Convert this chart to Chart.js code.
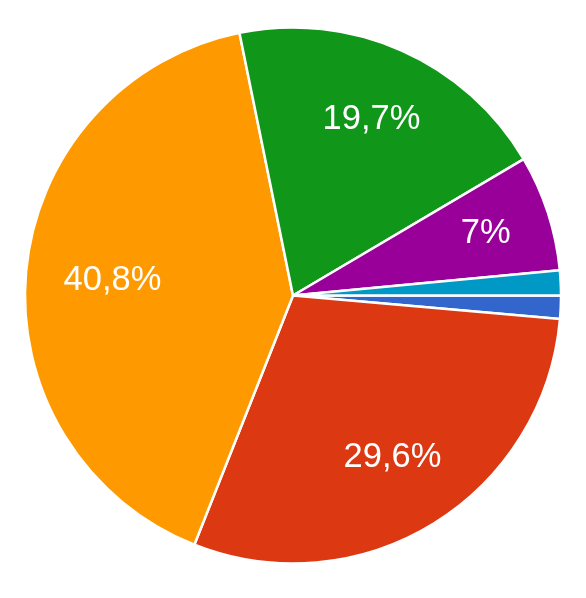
<!DOCTYPE html>
<html>
<head>
<meta charset="utf-8">
<script src="https://cdn.jsdelivr.net/npm/chart.js@4/dist/chart.umd.min.js"></script>
<style>
  html, body { margin: 0; padding: 0; background: #fff; }
  #wrap { width: 586px; height: 598px; }
</style>
</head>
<body>
<div id="wrap"><canvas id="pieChart" width="586" height="598"></canvas></div>
<script>
// Slice names (not shown in the picture) and their shares in percent
const categories = ['Option 1', 'Option 2', 'Option 3', 'Option 4', 'Option 5', 'Option 6'];
const shares = [1.4, 29.6, 40.8, 19.7, 7, 1.5];
const sliceColors = ['#3366cc', '#dc3912', '#ff9900', '#109618', '#990099', '#0099c6'];

// Percent text in the slices, with a decimal comma
function formatShare(v) {
    return String(v).replace('.', ',') + '%';
}

// Draw the percentage inside each slice that is large enough
const sliceLabels = {
    id: 'sliceLabels',
    afterDatasetsDraw(chart) {
        const ctx = chart.ctx;
        const meta = chart.getDatasetMeta(0);
        const total = shares.reduce((a, b) => a + b, 0);
        ctx.save();
        ctx.font = '34.5px "Liberation Sans", Arial, sans-serif';
        ctx.fillStyle = '#ffffff';
        ctx.textAlign = 'center';
        ctx.textBaseline = 'middle';
        meta.data.forEach((arc, i) => {
            if (shares[i] / total < 0.05) return;
            const text = formatShare(shares[i]);
            const mid = (arc.startAngle + arc.endAngle) / 2;
            const c = Math.cos(mid), s = Math.sin(mid);
            // push the text out until its far corner sits at ~0.865 of the radius
            const a = Math.sign(c) * ctx.measureText(text).width / 2;
            const b = Math.sign(s) * 17;
            const R = arc.outerRadius * 0.865;
            const k = c * a + s * b;
            const d = -k + Math.sqrt(k * k - (a * a + b * b - R * R));
            ctx.fillText(text, arc.x + c * d, arc.y + s * d + 1);
        });
        ctx.restore();
    }
};

new Chart(document.getElementById('pieChart'), {
    type: 'pie',
    data: {
        labels: categories,
        datasets: [{
            data: shares,
            backgroundColor: sliceColors,
            borderColor: '#ffffff',
            borderWidth: 2.5
        }]
    },
    options: {
        responsive: false,
        animation: false,
        rotation: 90,
        radius: 268,
        layout: { padding: { left: 0, right: 0, top: 0, bottom: 7 } },
        plugins: {
            legend: { display: false },
            tooltip: { enabled: false }
        }
    },
    plugins: [sliceLabels]
});
</script>
</body>
</html>
